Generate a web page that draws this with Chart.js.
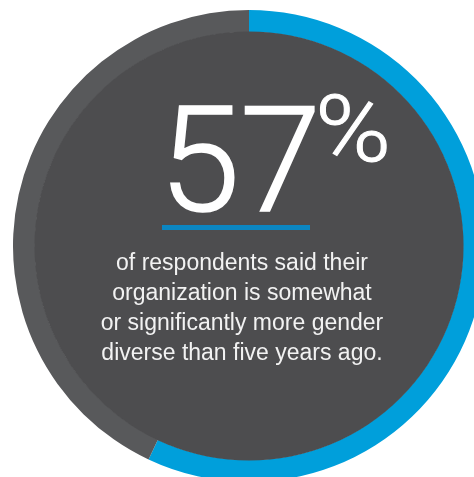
<!DOCTYPE html>
<html>
<head>
<meta charset="utf-8">
<script src="https://cdn.jsdelivr.net/npm/chart.js@4"></script>
<style>
  html, body { margin: 0; padding: 0; background: #ffffff; overflow: hidden; width: 474px; height: 477px; }
  #wrap { position: absolute; left: 13px; top: 10px; width: 472px; height: 472px; }
</style>
</head>
<body>
<div id="wrap"><canvas id="ring"></canvas></div>
<script>
// chart values
const labels = ['More gender diverse', 'Not more diverse'];
const values = [57, 43];
const colors = ['#009fdb', '#58595b'];
const headline = '57';
const caption = [
  'of respondents said their',
  'organization is somewhat',
  'or significantly more gender',
  'diverse than five years ago.'
];

// inner disc + centre text
const centerText = {
  id: 'centerText',
  afterDatasetsDraw(chart) {
    const arc = chart.getDatasetMeta(0).data[0];
    const c = chart.ctx;
    const cx = arc.x, cy = arc.y;
    c.save();
    c.fillStyle = '#4d4d4f';
    c.beginPath();
    c.arc(cx, cy, arc.innerRadius + 0.5, 0, Math.PI * 2);
    c.fill();

    c.fillStyle = '#ffffff';
    c.strokeStyle = '#ffffff';
    c.textBaseline = 'alphabetic';
    c.textAlign = 'center';
    c.font = '300 146px Roboto, "Liberation Sans", sans-serif';
    c.lineWidth = 1.6;
    c.fillText(headline, cx - 9, cy - 35);
    c.strokeText(headline, cx - 9, cy - 35);

    // percent sign, a bit wider than Roboto's
    c.save();
    c.translate(cx + 104, cy - 85);
    c.scale(1.12, 1);
    c.font = '300 92px Roboto, "Liberation Sans", sans-serif';
    c.lineWidth = 1;
    c.fillText('%', 0, 0);
    c.strokeText('%', 0, 0);
    c.restore();

    // blue rule under the number
    c.fillStyle = '#0b86c2';
    c.fillRect(cx - 87, cy - 21, 148, 5);

    c.fillStyle = '#f2f2f2';
    c.font = '23px "Liberation Sans", Arial, sans-serif';
    caption.forEach((line, i) => {
      c.fillText(line, cx - 7, cy + 24 + i * 30);
    });
    c.restore();
  }
};

new Chart(document.getElementById('ring').getContext('2d'), {
  type: 'doughnut',
  data: {
    labels: labels,
    datasets: [{
      data: values,
      backgroundColor: colors,
      borderWidth: 0,
      hoverOffset: 0
    }]
  },
  options: {
    responsive: true,
    maintainAspectRatio: false,
    animation: false,
    cutout: '90.7%',
    layout: { padding: 0 },
    plugins: {
      legend: { display: false },
      tooltip: { enabled: false }
    }
  },
  plugins: [centerText]
});
</script>
</body>
</html>
